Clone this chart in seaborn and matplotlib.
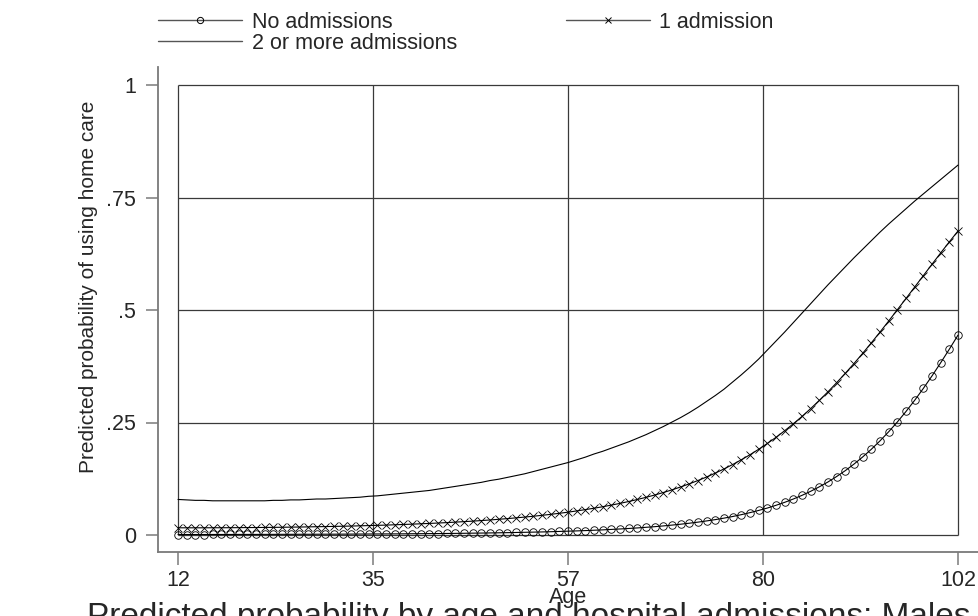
import numpy as np
import pandas as pd
import seaborn as sns
import matplotlib.pyplot as plt
from matplotlib.lines import Line2D

# ------------------------------------------------------------
# données (probabilité prédite par âge)
# ------------------------------------------------------------
ages = list(range(12, 103))

no_adm = [
    .0011, .0011, .0011, .0011, .0012, .0012, .0012, .0013, .0013, .0013,
    .0014, .0014, .0015, .0015, .0016, .0016, .0017, .0018, .0018, .0019,
    .0020, .0021, .0022, .0023, .0024, .0025, .0026, .0028, .0029, .0031,
    .0032, .0034, .0036, .0038, .0041, .0043, .0046, .0049, .0052, .0056,
    .0060, .0064, .0068, .0073, .0079, .0085, .0091, .0098, .0106, .0114,
    .0124, .0134, .0145, .0157, .0171, .0185, .0202, .0220, .0240, .0262,
    .0286, .0313, .0342, .0375, .0411, .0452, .0497, .0546, .0599, .0660,
    .0726, .0800, .0881, .0971, .1071, .1179, .1300, .1431, .1576, .1734,
    .1905, .2092, .2294, .2511, .2745, .2993, .3257, .3535, .3827, .4129,
    .4442,
]

one_adm = [
    .0160, .0160, .0160, .0160, .0161, .0161, .0162, .0163, .0165, .0166,
    .0168, .0170, .0172, .0175, .0177, .0180, .0184, .0187, .0191, .0195,
    .0199, .0204, .0209, .0215, .0220, .0227, .0234, .0241, .0249, .0257,
    .0266, .0275, .0286, .0297, .0308, .0321, .0334, .0349, .0364, .0381,
    .0398, .0417, .0437, .0459, .0482, .0507, .0535, .0564, .0595, .0628,
    .0664, .0703, .0744, .0789, .0837, .0888, .0944, .1003, .1068, .1137,
    .1211, .1290, .1376, .1468, .1566, .1672, .1784, .1905, .2034, .2170,
    .2317, .2472, .2635, .2809, .2992, .3183, .3385, .3594, .3811, .4037,
    .4270, .4509, .4755, .5005, .5256, .5510, .5764, .6017, .6268, .6514,
    .6756,
]

two_plus = [
    .079, .078, .077, .077, .076, .076, .076, .076, .076, .076,
    .076, .077, .077, .078, .078, .079, .080, .080, .081, .082,
    .083, .084, .086, .087, .089, .091, .093, .095, .097, .099,
    .102, .105, .108, .111, .114, .117, .121, .124, .128, .132,
    .136, .141, .146, .151, .156, .161, .167, .173, .180, .186,
    .193, .200, .207, .215, .223, .232, .241, .251, .261, .272,
    .284, .297, .310, .324, .340, .356, .373, .391, .411, .431,
    .451, .472, .493, .514, .535, .556, .576, .596, .616, .635,
    .654, .673, .691, .708, .725, .742, .758, .774, .790, .806,
    .822,
]

labels = ["No admissions", "1 admission", "2 or more admissions"]
xticks = [12, 34.5, 57, 79.5, 102]
xtick_labels = ["12", "35", "57", "80", "102"]
yticks = [0, .25, .5, .75, 1]
ytick_labels = ["0", ".25", ".5", ".75", "1"]

# ------------------------------------------------------------
# style
# ------------------------------------------------------------
sns.set_style("white")
plt.rcParams["font.family"] = ["Liberation Sans", "DejaVu Sans"]
FS = 15.5

fig = plt.figure(figsize=(9.79, 6.16), dpi=100)
ax = fig.add_axes([158 / 979, 1 - 552 / 616, 820 / 979, 485 / 616])

# grille limitée à la zone du graphique (style Stata)
ax.hlines(yticks, xticks[0], xticks[-1], color="#3a3a3a", lw=0.9, zorder=0)
ax.vlines(xticks, yticks[0], yticks[-1], color="#3a3a3a", lw=0.9, zorder=0)

line_kw = dict(color="black", lw=0.8, mec="black", mew=0.6)
sns.lineplot(x=ages, y=no_adm, ax=ax, marker="o", ms=5.4, mfc="none", **line_kw)
sns.lineplot(x=ages, y=one_adm, ax=ax, marker="x", ms=6, **line_kw)
sns.lineplot(x=ages, y=two_plus, ax=ax, **line_kw)

ax.set_xlim(12 - 20 / 8.6667, 102 + 20 / 8.6667)
ax.set_ylim(-17 / 450, 1 + 18 / 450)
ax.set_xticks(xticks)
ax.set_xticklabels(xtick_labels)
ax.set_yticks(yticks)
ax.set_yticklabels(ytick_labels)
ax.grid(False)

for s in ["top", "right"]:
    ax.spines[s].set_visible(False)
for s in ["left", "bottom"]:
    ax.spines[s].set_color("#7a7a7a")
    ax.spines[s].set_linewidth(1.3)

ax.tick_params(axis="both", which="both", length=9, width=1.1, color="#7a7a7a",
               labelsize=FS, left=True, bottom=True)
ax.tick_params(axis="y", pad=7)
ax.tick_params(axis="x", pad=4)
ax.set_xlabel("")
ax.set_ylabel("")

fig.text(89 / 979, 1 - 287 / 616, "Predicted probability of using home care",
         rotation=90, ha="center", va="center", fontsize=15)
fig.text(568 / 979, 1 - 597 / 616, "Age", ha="center", va="center", fontsize=FS)
fig.text(87 / 979, 1 - 602 / 616,
         "Predicted probability by age and hospital admissions: Males",
         ha="left", va="top", fontsize=24)

# légende en haut
handles = [
    Line2D([], [], color="#555555", lw=1, marker="o", ms=4.5, mfc="none", mec="black", mew=0.7),
    Line2D([], [], color="#555555", lw=1),
    Line2D([], [], color="#555555", lw=1, marker="x", ms=5, mec="black", mew=0.7),
]
fig.legend(handles, [labels[0], labels[2], labels[1]], ncol=2,
           loc="upper left", bbox_to_anchor=(158 / 979, 1 - 12 / 616),
           frameon=False, fontsize=FS, borderpad=0, borderaxespad=0,
           handlelength=3.9, handletextpad=0.45, columnspacing=5.05,
           labelspacing=0.0)

fig.savefig("out.png", dpi=100)
